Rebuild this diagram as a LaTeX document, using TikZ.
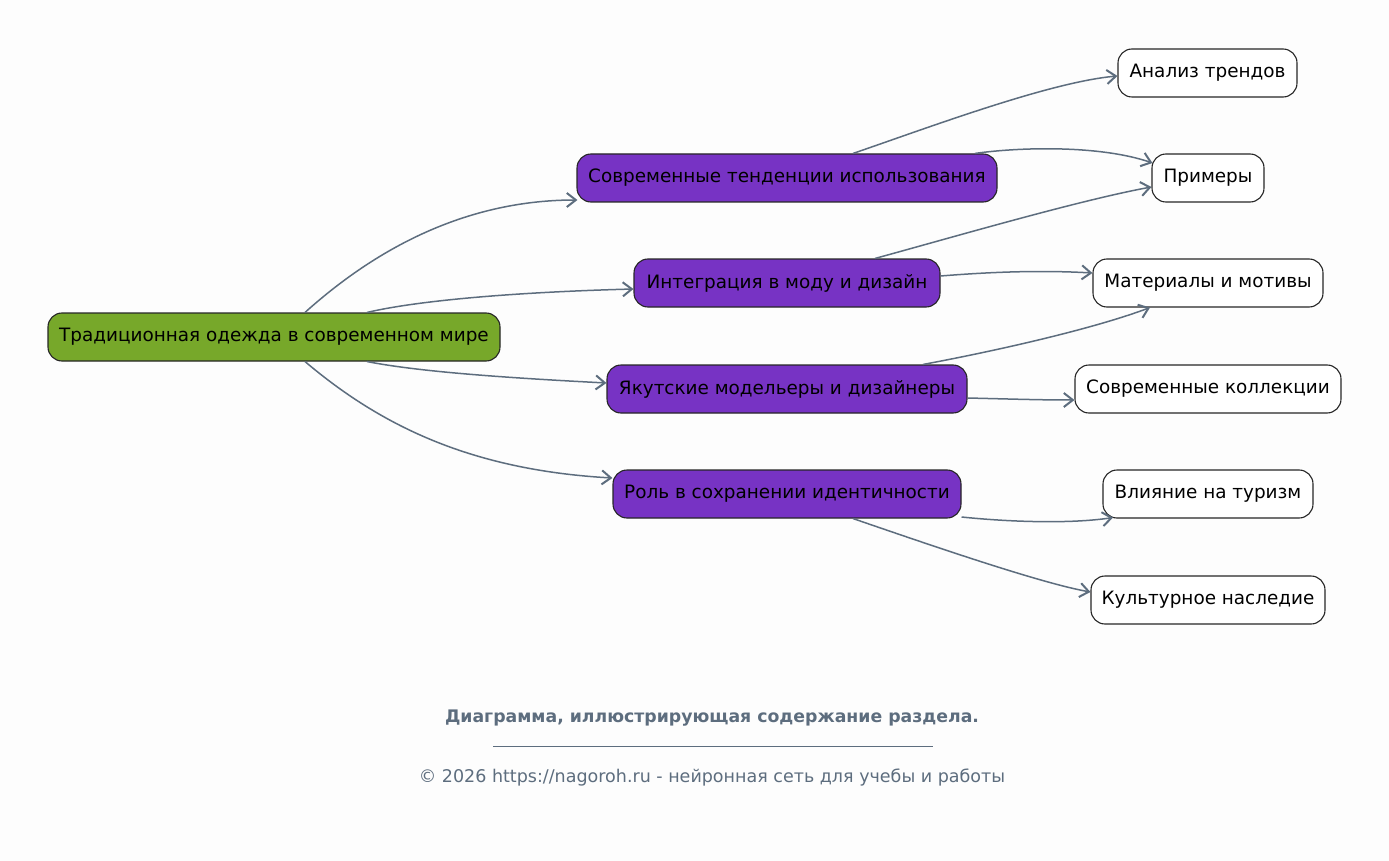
\documentclass[tikz,border=0pt]{standalone}
\usepackage{fontspec}
\setmainfont{DejaVu Sans}
\usetikzlibrary{arrows.meta,calc}
\definecolor{bg}{HTML}{FDFDFD}
\definecolor{rootgreen}{HTML}{77A82A}
\definecolor{midpurple}{HTML}{7733C4}
\definecolor{edgegray}{HTML}{5D6D7E}
\tikzset{
  base/.style={draw=black!85, line width=1.1pt, rounded corners=14pt, minimum height=48pt, inner sep=0pt, font=\fontsize{18.4}{22}\selectfont, text=black},
  rootbox/.style={base, fill=rootgreen},
  midbox/.style={base, fill=midpurple},
  leafbox/.style={base, fill=white},
  link/.style={draw=edgegray, line width=1.5pt, -{Straight Barb[length=9pt,width=14pt,line width=2pt]}},
  foot/.style={text=edgegray, inner sep=0pt}
}
\begin{document}
\begin{tikzpicture}[x=1pt,y=-1pt]
\fill[bg] (0,0) rectangle (1389,861);
\useasboundingbox (0,0) rectangle (1389,861);
\node[rootbox, minimum width=452pt] (root) at (274,337) {Традиционная одежда в современном мире};
\node[midbox, minimum width=420pt] (p1) at (787,178) {Современные тенденции использования};
\node[midbox, minimum width=306pt] (p2) at (787,283) {Интеграция в моду и дизайн};
\node[midbox, minimum width=360pt] (p3) at (787,389) {Якутские модельеры и дизайнеры};
\node[midbox, minimum width=348pt] (p4) at (787,494) {Роль в сохранении идентичности};
\node[leafbox, minimum width=179pt] (l1) at (1207.5,73) {Анализ трендов};
\node[leafbox, minimum width=112pt] (l2) at (1208,178) {Примеры};
\node[leafbox, minimum width=230pt] (l3) at (1208,283) {Материалы и мотивы};
\node[leafbox, minimum width=266pt] (l4) at (1208,389) {Современные коллекции};
\node[leafbox, minimum width=210pt] (l5) at (1208,494) {Влияние на туризм};
\node[leafbox, minimum width=234pt] (l6) at (1208,600) {Культурное наследие};

\draw[link] ($(root.north)+(31,0)$) .. controls (380,245) and (470,200) .. ($(p1.west)+(1,22)$);
\draw[link] ($(root.north)+(93,0)$) .. controls (420,300) and (520,292) .. ($(p2.west)+(0,6)$);
\draw[link] ($(root.south)+(93,0)$) .. controls (420,372) and (510,378) .. ($(p3.west)+(0,-6)$);
\draw[link] ($(root.south)+(31,0)$) .. controls (380,425) and (470,470) .. ($(p4.west)+(0,-16)$);

\draw[link] ($(p1.north)+(66,0)$) .. controls (930,127) and (1050,82) .. ($(l1.west)+(0,3)$);
\draw[link] ($(p1.north)+(188,0)$) .. controls (1020,147) and (1100,145) .. ($(l2.west)+(1,-15)$);
\draw[link] ($(p2.north)+(88,0)$) .. controls (950,238) and (1080,200) .. ($(l2.west)+(0,9)$);
\draw[link] ($(p2.east)+(0,-7)$) .. controls (990,272) and (1040,270) .. ($(l3.west)+(0,-10)$);
\draw[link] ($(p3.north)+(136,0)$) .. controls (990,352) and (1090,330) .. ($(l3.south)+(-58,0)$);
\draw[link] ($(p3.east)+(0,9)$) .. controls (1010,399) and (1040,400) .. ($(l4.west)+(0,11)$);
\draw[link] ($(p4.east)+(0,23)$) .. controls (1010,522) and (1070,524) .. ($(l5.south)+(-95,-1)$);
\draw[link] ($(p4.south)+(66,0)$) .. controls (930,545) and (1040,583) .. ($(l6.west)+(0,-8)$);

\node[foot, font=\fontsize{17.3}{20}\selectfont\bfseries] (cap) at (712,718) {Диаграмма, иллюстрирующая содержание раздела.};
\draw[edgegray, line width=0.8pt] (493,746) -- (933,746);
\node[foot, font=\fontsize{17.5}{20}\selectfont] (copy) at (712,778) {© 2026 https://nagoroh.ru - нейронная сеть для учебы и работы};
\end{tikzpicture}
\end{document}
